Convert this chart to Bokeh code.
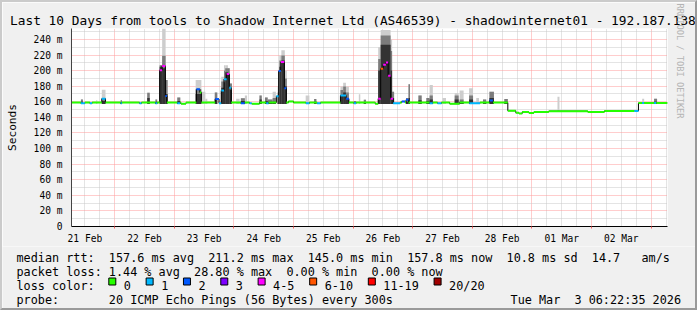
from bokeh.plotting import figure
from bokeh.layouts import column
from bokeh.models import Range1d, FixedTicker, Title
from bokeh.core.properties import value
from bokeh.embed import file_html
from bokeh.resources import INLINE

# ---------------- data ----------------
title_text = "Last 10 Days from tools to Shadow Internet Ltd (AS46539) - shadowinternet01 - 192.187.138"
side_text = "RRDTOOL / TOBI OETIKER"
x_start, x_end = 6.6, 246.6          # hours since 21 Feb 00:00
y_top = 254.0                         # ms

day_lines = [24, 48, 72, 96, 120, 144, 168, 192, 216, 240]
six_hour_lines = [12, 18, 30, 36, 42, 54, 60, 66, 78, 84, 90, 102, 108, 114, 126, 132, 138,
                  150, 156, 162, 174, 180, 186, 198, 204, 210, 222, 228, 234, 246]
day_label_pos = [12, 36, 60, 84, 108, 132, 156, 180, 204, 228]
day_labels = ["21 Feb", "22 Feb", "23 Feb", "24 Feb", "25 Feb", "26 Feb", "27 Feb",
              "28 Feb", "01 Mar", "02 Mar"]
y_ticks = [0, 20, 40, 60, 80, 100, 120, 140, 160, 180, 200, 220, 240]
y_labels = ["0", "20 m", "40 m", "60 m", "80 m", "100 m", "120 m", "140 m", "160 m",
            "180 m", "200 m", "220 m", "240 m"]
y_minor = [10, 30, 50, 70, 90, 110, 130, 150, 170, 190, 210, 230, 250]

# smoke columns: start/end (h), lowest ping, light top, medium top, dark top (ms)
smoke_t0 = [10.4, 16.5, 18.8, 26.4, 37.1, 40.4, 42.1, 43.1, 44.5, 49.2, 56.6, 58.9, 60.5, 64.3,
            66.9, 68.0, 68.5, 69.6, 70.3, 72.9, 74.8, 76.4, 82.3, 84.5, 85.6, 87.6, 89.6, 90.3,
            91.1, 92.5, 100.9, 104.3, 114.9, 116.0, 117.1, 120.3, 122.3, 124.3, 130.1, 131.1,
            135.1, 135.7, 141.3, 142.3, 146.3, 149.5, 150.8, 156.0, 160.9, 162.9, 166.7, 169.6,
            172.3, 174.9, 180.9, 202.3, 224.4, 236.4, 241.2]
smoke_t1 = [11.2, 17.0, 20.3, 26.9, 38.1, 41.1, 43.1, 44.5, 45.3, 50.4, 58.9, 60.5, 61.3, 65.3,
            68.0, 68.5, 69.6, 70.3, 71.2, 74.3, 76.4, 77.3, 83.2, 85.6, 87.6, 88.9, 90.3, 91.1,
            92.5, 93.3, 102.4, 105.2, 116.0, 117.1, 118.3, 121.2, 122.9, 125.2, 131.1, 135.1,
            135.7, 136.5, 142.3, 142.9, 147.6, 150.8, 152.1, 157.4, 162.5, 164.5, 168.3, 170.7,
            173.6, 176.7, 182.3, 203.1, 226.4, 237.2, 242.4]
smoke_lo = [157, 157, 157, 157, 157, 157, 157, 157, 157, 157, 157, 157, 157, 157,
            157, 157, 157, 157, 157, 157, 157, 157, 157, 157, 157, 157, 157, 157,
            157, 157, 157, 157, 157, 157, 157, 157, 157, 157, 157, 157,
            157, 157, 157, 157, 157, 157, 157, 157, 157, 157, 157, 157,
            157, 157, 157, 147, 147, 157, 157]
smoke_hi = [163, 162, 175.5, 162, 171.5, 163, 207, 254, 188, 165.5, 188, 173, 164, 172,
            192, 207, 207, 203, 183.5, 164, 164.5, 168, 168, 165.5, 163, 173, 180, 219.5,
            226, 200, 168, 163.5, 179.5, 184.5, 179.5, 161, 169.5, 162.5, 230, 252,
            240, 173, 165, 182.5, 168, 165, 181.5, 165, 171, 174.5, 177.5, 165,
            163, 173, 163.5, 166.5, 149.5, 164, 164]
smoke_mid = [163, 157, 164, 162, 171.5, 163, 207, 219, 188, 165.5, 176, 157, 157, 172,
             186, 200, 203, 203, 183.5, 157, 164.5, 157, 168, 165.5, 163, 165, 172, 213,
             219.5, 190, 157, 163.5, 175, 179.5, 172, 161, 157, 162.5, 215, 245,
             225, 173, 165, 182.5, 168, 165, 168, 157, 168, 163, 168, 157,
             163, 173, 163.5, 147, 147, 157, 164]
smoke_dk = [160, 157, 161, 159, 165, 160, 205, 203, 170, 161, 170, 157, 157, 164,
            178, 185, 198, 195, 175, 157, 161, 157, 163, 161, 160, 160, 167, 205,
            213, 180, 157, 160, 168, 172, 165, 159, 157, 159, 200, 233,
            200, 165, 160, 165, 162, 161, 163, 157, 163, 160, 163, 157,
            159, 165, 160, 147, 147, 157, 160]

# median rtt steps: start (h), value (ms), lost pings of 20
med_t = [6.6, 10.4, 12.0, 14.0, 14.9, 18.8, 20.3, 26.4, 26.9, 34.0, 34.8, 40.4, 41.1, 42.1,
         43.1, 44.4, 45.0, 49.2, 50.4, 50.7, 52.7, 56.9, 58.3, 58.9, 64.5, 66.0, 66.9, 68.0,
         69.1, 70.1, 70.9, 74.8, 76.4, 78.3, 79.2, 82.3, 85.0, 86.0, 89.1, 90.0, 90.9, 92.3,
         93.1, 94.0, 96.0, 101.0, 102.4, 105.5, 106.9, 114.9, 117.2, 118.3, 120.3, 121.2,
         128.9, 130.1, 131.1, 132.1, 133.2, 134.1, 135.1, 136.1, 138.9, 139.6, 140.9, 141.3,
         142.3, 150.8, 152.1, 154.0, 155.6, 158.9, 162.9, 166.8, 171.1, 174.9, 176.3, 182.3,
         185.5, 186.8, 188.1, 190.8, 192.8, 198.8, 214.5, 221.2, 233.3, 234.9, 236.4, 237.2,
         241.2, 242.1]
med_v = [159, 158, 159, 158, 159, 164, 159, 158, 159, 158, 159, 158, 159, 200.5,
         206, 167.5, 159, 158, 159, 157.5, 159, 176, 172, 159, 163.5, 158, 174.5, 189,
         195.5, 178, 159, 158, 159, 158, 157.5, 159, 158, 159, 167, 199.5, 211, 177.5,
         159, 160.5, 159, 158, 159, 158, 159, 168, 164, 159, 158, 159,
         157.5, 164, 202.5, 207.5, 210.5, 193.5, 164, 158, 159, 160.5, 159, 162.5,
         159, 158, 159, 158, 159, 157.5, 159, 158, 159, 161.5, 159, 148.5,
         146, 145, 147, 145.5, 147, 148, 147, 148.3, 148.3, 158.5, 158.5, 158.5,
         158.5, 158.5]
med_loss = [0, 1, 0, 1, 0, 1, 0, 1, 0, 1, 0, 1, 0, 5,
            5, 2, 0, 1, 0, 0, 0, 2, 0, 0, 2, 1, 1, 1,
            5, 1, 0, 2, 0, 1, 0, 0, 1, 0, 1, 2, 5, 2,
            0, 0, 0, 1, 0, 1, 0, 1, 2, 0, 1, 0,
            0, 5, 8, 5, 5, 5, 5, 1, 0, 2, 0, 2,
            0, 1, 0, 1, 0, 0, 0, 1, 0, 2, 0, 0,
            0, 0, 0, 0, 0, 0, 0, 0, 1, 0, 1, 0,
            1, 0]

loss_limits = [0, 1, 2, 3, 5, 10, 19, 20]
loss_labels = ["0", "1", "2", "3", "4-5", "6-10", "11-19", "20/20"]
loss_colors = ["#26ff00", "#00b8ff", "#0059ff", "#7e00ff", "#ff00ff", "#ff5500", "#ff0000", "#a10000"]

line_rtt = "median rtt:  157.6 ms avg  211.2 ms max  145.0 ms min  157.8 ms now  10.8 ms sd  14.7   am/s"
line_loss = "packet loss: 1.44 % avg  28.80 % max  0.00 % min  0.00 % now"
line_probe = "probe:       20 ICMP Echo Pings (56 Bytes) every 300s"
stamp_text = "Tue Mar  3 06:22:35 2026"
loss_title = "loss color:"

# ---------------- layout ----------------
W, H = 697, 310
BD = 2                      # 3D frame width
FL, FT, FW, FH = 67, 28, 600, 200
SPLIT = 246                 # canvas y where the legend strip starts
MONO = "DejaVu Sans Mono"
CW = 7.11                   # legend character advance (px)
BG = "#f0f0f0"

def keep_spaces(s):
    return s.replace("  ", " \u00a0")

def loss_color(n):
    for lim, c in zip(loss_limits, loss_colors):
        if n <= lim:
            return c
    return loss_colors[-1]

p = figure(width=W - 2 * BD, height=SPLIT - BD, x_range=Range1d(x_start, x_end),
           y_range=Range1d(0, y_top), output_backend="svg", toolbar_location=None, title=None,
           min_border_left=FL - BD, min_border_right=W - BD - FL - FW,
           min_border_top=FT - BD, min_border_bottom=SPLIT - FT - FH,
           background_fill_color="white", border_fill_color=BG)
p.outline_line_color = None
p.frame_align = False

# grids
p.xgrid.ticker = FixedTicker(ticks=day_lines, minor_ticks=six_hour_lines)
p.ygrid.ticker = FixedTicker(ticks=y_ticks[1:], minor_ticks=y_minor)
for g in (p.xgrid, p.ygrid):
    g.grid_line_color = "#ff9a9a"
    g.grid_line_dash = "1 1"
    g.grid_line_width = 1
    g.minor_grid_line_color = "#c8c8c8"
    g.minor_grid_line_dash = "1 1"
    g.minor_grid_line_width = 1

# axes
p.xaxis.ticker = FixedTicker(ticks=day_label_pos, minor_ticks=day_lines)
p.xaxis.major_label_overrides = {t: l for t, l in zip(day_label_pos, day_labels)}
p.yaxis.ticker = FixedTicker(ticks=y_ticks)
p.yaxis.major_label_overrides = {t: l for t, l in zip(y_ticks, y_labels)}
for ax in (p.xaxis, p.yaxis):
    ax.major_tick_line_color = None
    ax.minor_tick_line_color = None
    ax.major_tick_out = 0
    ax.major_tick_in = 0
    ax.minor_tick_out = 0
    ax.minor_tick_in = 0
    ax.major_label_text_font = MONO
    ax.major_label_text_font_size = "9.6px"
    ax.major_label_text_color = "#000000"
p.xaxis.minor_tick_line_color = "#ff6060"
p.xaxis.minor_tick_out = 2
p.xaxis.axis_line_color = "#000000"
p.yaxis.axis_line_color = "#444444"
p.xaxis.major_label_standoff = 4
p.yaxis.major_label_standoff = 9
p.yaxis.axis_label = "Seconds"
p.yaxis.axis_label_text_font = MONO
p.yaxis.axis_label_text_font_size = "11.2px"
p.yaxis.axis_label_text_font_style = "normal"
p.yaxis.axis_label_text_color = "#000000"
p.yaxis.axis_label_standoff = 12

# smoke
p.quad(left=smoke_t0, right=smoke_t1, bottom=smoke_lo, top=smoke_hi,
       fill_color="#cdcdcd", line_color=None)
p.quad(left=smoke_t0, right=smoke_t1, bottom=smoke_lo, top=smoke_mid,
       fill_color="#7c7c7c", line_color=None)
p.quad(left=smoke_t0, right=smoke_t1, bottom=smoke_lo, top=smoke_dk,
       fill_color="#333333", line_color=None)

# median line
p.step(x=med_t + [x_end], y=med_v + [med_v[-1]], mode="after", line_color="black", line_width=1)
p.segment(x0=med_t, y0=med_v, x1=med_t[1:] + [x_end], y1=med_v,
          line_color=[loss_color(n) for n in med_loss], line_width=2)

# title (left edge of text at canvas x ~ 5.6)
p.add_layout(Title(text=title_text, align="left", offset=5.6 - FL, standoff=2,
                   text_font=MONO, text_font_size="12.8px", text_font_style="normal",
                   text_color="#000000"), "above")
# side credit
p.add_layout(Title(text=side_text, align="left", offset=-25, standoff=14,
                   text_font=MONO, text_font_size="8.7px", text_font_style="normal",
                   text_color="#b4b4b4"), "right")

# ---------------- legend strip ----------------
LH = H - BD - SPLIT
q = figure(width=W - 2 * BD, height=LH, x_range=Range1d(0, W - 2 * BD), y_range=Range1d(LH, 0),
           output_backend="svg", toolbar_location=None, title=None,
           x_axis_type=None, y_axis_type=None, min_border=0,
           background_fill_color=BG, border_fill_color=BG)
q.outline_line_color = None
q.frame_align = False
q.xgrid.visible = False
q.ygrid.visible = False

def lx(X):
    return X - BD

def ly(Y):
    return Y - SPLIT

def put(X, Y, s, align="left"):
    q.text(x=[lx(X)], y=[ly(Y)], text=[keep_spaces(s)], text_font=value(MONO),
           text_font_size=value("11.8px"), text_align=align, text_baseline="alphabetic",
           text_color="#000000")

put(16, 257.5, line_rtt)
put(16, 271.5, line_loss)
put(16, 285, loss_title)
bx = 108.3
box_l, box_r, lab_x = [], [], []
for lab in loss_labels:
    box_l.append(lx(bx))
    box_r.append(lx(bx + 7))
    lab_x.append(lx(bx + 15))
    bx += (len(lab) + 4.25) * CW
q.quad(left=box_l, right=box_r, top=[ly(277.5)] * len(box_l), bottom=[ly(284.5)] * len(box_l),
       fill_color=loss_colors, line_color="#000000", line_width=1)
q.text(x=lab_x, y=[ly(285)] * len(lab_x), text=loss_labels, text_font=value(MONO),
       text_font_size=value("11.8px"), text_align="left", text_baseline="alphabetic",
       text_color="#000000")
put(16, 299.5, line_probe)
put(680.5, 299.5, stamp_text, align="right")

page = column(p, q, spacing=0)
page.styles = {"border-style": "solid", "border-width": f"{BD}px",
               "border-color": "#cbcbcb #9a9a9a #9a9a9a #cbcbcb"}

open("out.html", "w").write(file_html(page, INLINE))
